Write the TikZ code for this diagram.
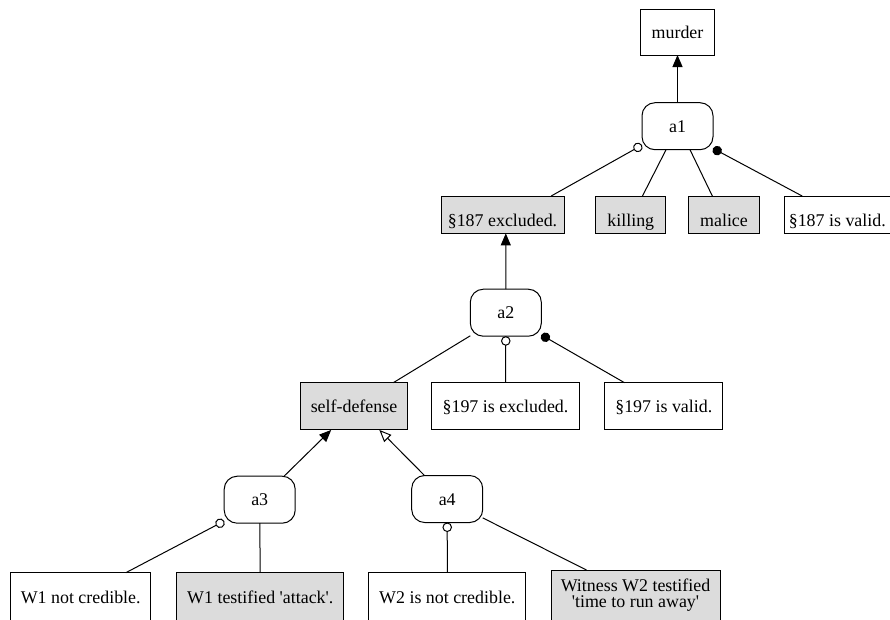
\documentclass[tikz,border=0pt]{standalone}
\usepackage{fontspec}
\setmainfont{Liberation Serif}[Ligatures=TeXOff]
\usepackage{tikz}
\usetikzlibrary{arrows.meta}
\definecolor{cagrau}{HTML}{DCDCDC}
\def\maunen{cagrau}
\def\mauvien{black}

\begin{document}
\begin{tikzpicture}[x=1pt,y=-1pt,font=\fontsize{17.9}{16.7}\selectfont,
	plain/.style={draw=\mauvien,line width=1pt,inner sep=0pt,outer sep=0pt,minimum height=37.3pt},
	stmt/.style={plain,text height=12.4pt,text depth=0pt},
	fact/.style={stmt,fill=\maunen},
	low/.style={text height=24pt},
	arg/.style={stmt,rounded corners=13pt,minimum width=71pt,minimum height=47pt},
	link/.style={line width=1pt,\mauvien},
	pro/.style={link,-{Triangle[length=12pt,width=10pt]}},
	con/.style={link,-{Triangle[open,length=12pt,width=10pt]}},
	excp/.style={link,-{Circle[open,length=9.5pt]}},
	assm/.style={link,-{Circle[length=9.5pt]}}]
		\useasboundingbox (0,0) rectangle (890,619);
		\clip (0,0) rectangle (890,619);
		\path (677.5,32) node[stmt,minimum width=74pt,minimum height=46pt] (murder) {murder}
		(677.5,126.2) node[arg] (a1) {a1}
		(502.5,214.7) node[fact,low,minimum width=123pt] (excl187) {§187 excluded.}
		(630.8,214.7) node[fact,low,minimum width=70.3pt] (killing) {killing}
		(724,214.7) node[fact,low,minimum width=70.6pt] (malice) {malice}
		(837.3,214.7) node[stmt,low,minimum width=106pt] (valid187) {§187 is valid.}
		;
		\path (505.8,312.7) node[arg] (a2) {a2}
		(354,406.3) node[fact,minimum width=106.6pt,minimum height=47.3pt] (selfdef) {self-defense}
		(505.5,406.3) node[stmt,minimum width=147.6pt,minimum height=47.3pt] (excl197) {§197 is excluded.}
		(663.8,406.3) node[stmt,minimum width=117.7pt,minimum height=47.3pt] (valid197) {§197 is valid.}
		;
		\path (259.7,499.7) node[arg] (a3) {a3}
		(447.2,499) node[arg] (a4) {a4}
		(80.7,597.7) node[stmt,minimum width=140pt,minimum height=50pt] (wnc) {W1 not credible.}
		(260.3,597.7) node[fact,minimum width=167.3pt,minimum height=50pt] (watt) {W1 testified 'attack'.}
		(447.3,597.7) node[stmt,minimum width=156.7pt,minimum height=50pt] (wzwnc) {W2 is not credible.}
		(635.5,595) node[plain,fill=\maunen,minimum width=169pt,minimum height=50pt,align=center] (wzwrun) {Witness W2 testified\\'time to run away'}
		;
		\draw[pro] (a1) -- (murder);
		\draw[excp] (excl187.21.5) -- (a1.208.6);
		\draw[link] (killing.58.4) -- (a1.244.4);
		\draw[link] (malice.122) -- (a1.-62);
		\draw[assm] (valid187.152.7) -- (a1.-32.6);
		\draw[pro] (a2.north) -- (excl187.-80.3);
		\draw[link] (selfdef.31) -- (a2.213.2);
		\draw[excp] (excl197.north) -- (a2.south);
		\draw[assm] (valid197.149.8) -- (a2.-32.2);
		\draw[pro] (a3.44.3) -- (selfdef.226.7);
		\draw[con] (a4.134.9) -- (selfdef.-43.4);
		\draw[excp] (wnc.29.4) -- (a3.211.2);
		\draw[link] (watt) -- (a3);
		\draw[excp] (wzwnc) -- (a4);
		\draw[link] (wzwrun.153.7) -- (a4.-28.5);
	\end{tikzpicture}
\end{document}
